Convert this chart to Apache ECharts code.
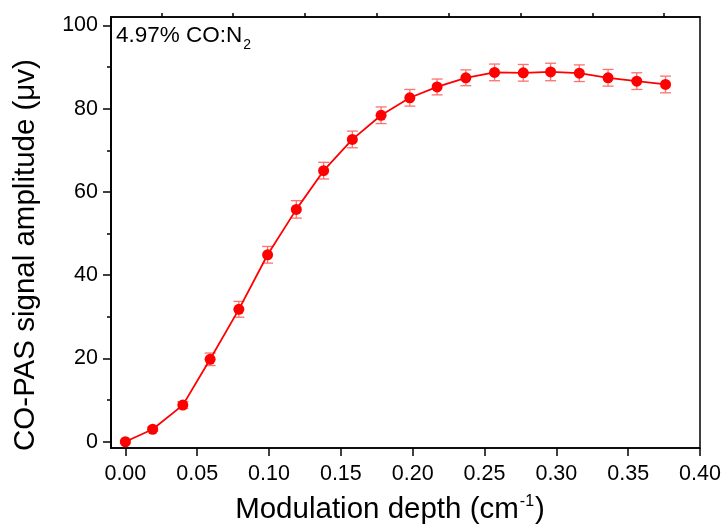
<!DOCTYPE html>
<html><head><meta charset="utf-8">
<script src="https://cdn.jsdelivr.net/npm/echarts@6/dist/echarts.min.js"></script>
<style>html,body{margin:0;padding:0;background:#fff}#c{width:726px;height:525px}</style>
</head><body><div id="c"></div>
<script>
const depth = [0, 0.019, 0.040, 0.059, 0.079, 0.099, 0.119, 0.138, 0.158, 0.178, 0.198, 0.217, 0.237, 0.257, 0.277, 0.296, 0.316, 0.336, 0.356, 0.376];
const amplitude = [0, 3.0, 8.8, 19.8, 31.8, 44.9, 55.8, 65.1, 72.6, 78.4, 82.6, 85.2, 87.4, 88.7, 88.6, 88.8, 88.5, 87.4, 86.6, 85.8];
const errorBar = [0.3, 0.5, 0.8, 1.5, 1.9, 2.0, 2.1, 2.0, 2.0, 2.0, 2.0, 1.9, 1.9, 2.0, 2.0, 2.1, 2.0, 2.0, 2.0, 2.0];
const xMajorTicks = [0, 0.05, 0.10, 0.15, 0.20, 0.25, 0.30, 0.35, 0.40];
const xMinorTicks = [0.025, 0.075, 0.125, 0.175, 0.225, 0.275, 0.325, 0.375];
const yMajorTicks = [0, 20, 40, 60, 80, 100];
const yMinorTicks = [10, 30, 50, 70, 90];

const FONT = '"Liberation Sans", Arial, sans-serif';
const chart = echarts.init(document.getElementById('c'), null, {renderer: 'canvas'});
const points = depth.map((x, i) => [x, amplitude[i]]);
const errData = depth.map((x, i) => [x, amplitude[i] - errorBar[i], amplitude[i] + errorBar[i]]);

const baseX = {type: 'value', min: -0.01, max: 0.40, splitLine: {show: false},
  axisLine: {show: true, onZero: false, lineStyle: {color: '#000', width: 1.5}}};
const baseY = {type: 'value', min: -1.5, max: 102, splitLine: {show: false},
  axisLine: {show: true, onZero: false, lineStyle: {color: '#000', width: 1.5}}};

chart.setOption({
  animation: false,
  grid: {left: 111, right: 26, top: 17, bottom: 77, show: true, borderColor: '#000', borderWidth: 1.5},
  xAxis: [
    Object.assign({}, baseX, {
      axisTick: {show: true, inside: false, length: 8, lineStyle: {color: '#000', width: 1.5}, customValues: xMajorTicks},
      axisLabel: {show: true, margin: 15, fontSize: 21.5, color: '#000', fontFamily: FONT, customValues: xMajorTicks,
        formatter: v => v.toFixed(2)}
    }),
    Object.assign({}, baseX, {
      axisTick: {show: true, inside: false, length: 4, lineStyle: {color: '#000', width: 1.5}, customValues: xMinorTicks},
      axisLabel: {show: false}
    })
  ],
  yAxis: [
    Object.assign({}, baseY, {
      axisTick: {show: true, inside: false, length: 8, lineStyle: {color: '#000', width: 1.5}, customValues: yMajorTicks},
      axisLabel: {show: true, margin: 13, fontSize: 21.5, color: '#000', fontFamily: FONT, customValues: yMajorTicks}
    }),
    Object.assign({}, baseY, {
      position: 'left',
      axisTick: {show: true, inside: false, length: 4, lineStyle: {color: '#000', width: 1.5}, customValues: yMinorTicks},
      axisLabel: {show: false}
    })
  ],
  series: [
    {
      type: 'custom', xAxisIndex: 0, yAxisIndex: 0, z: 1,
      data: errData,
      renderItem: function (params, api) {
        const x = api.value(0);
        const lo = api.coord([x, api.value(1)]);
        const hi = api.coord([x, api.value(2)]);
        const hw = 5.5;
        const style = {stroke: '#ff7070', lineWidth: 1.3, fill: null};
        return {type: 'group', children: [
          {type: 'line', shape: {x1: lo[0], y1: lo[1], x2: hi[0], y2: hi[1]}, style: style},
          {type: 'line', shape: {x1: lo[0] - hw, y1: lo[1], x2: lo[0] + hw, y2: lo[1]}, style: style},
          {type: 'line', shape: {x1: hi[0] - hw, y1: hi[1], x2: hi[0] + hw, y2: hi[1]}, style: style}
        ]};
      }
    },
    {
      type: 'line', xAxisIndex: 0, yAxisIndex: 0, z: 3,
      data: points,
      symbol: 'circle', symbolSize: 11,
      lineStyle: {color: '#ff0000', width: 1.8},
      itemStyle: {color: '#ff0000'}
    }
  ],
  graphic: [
    {type: 'text', left: 116, top: 24, style: {
      text: '{a|4.97% CO:N}{s|2}', fontFamily: FONT,
      rich: {a: {fontSize: 22.5, fontFamily: FONT, fill: '#000'}, s: {fontSize: 14, fontFamily: FONT, fill: '#000', padding: [20, 0, 0, 1]}}
    }},
    {type: 'text', x: 390, y: 494, style: {
      text: '{a|Modulation depth (cm}{s|-1}{a|)}', fontFamily: FONT, align: 'center',
      rich: {a: {fontSize: 29.5, fontFamily: FONT, fill: '#000'}, s: {fontSize: 16, fontFamily: FONT, fill: '#000', padding: [0, 1, 16, 1]}}
    }},
    {type: 'text', x: 26, y: 255, rotation: Math.PI / 2, style: {
      text: 'CO-PAS signal amplitude (μv)', fontSize: 29.5, fontFamily: FONT, fill: '#000',
      align: 'center', verticalAlign: 'middle'
    }}
  ]
});
</script></body></html>
